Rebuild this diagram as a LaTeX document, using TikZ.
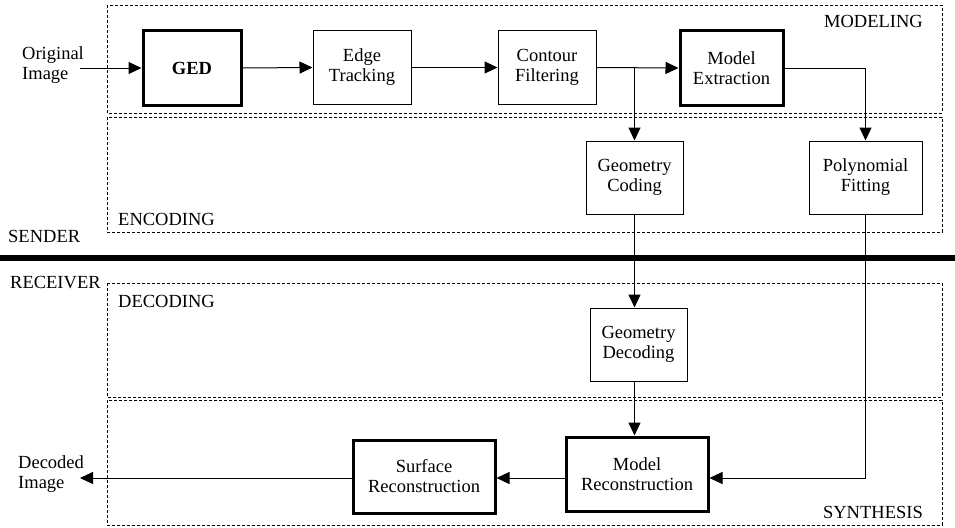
\documentclass[tikz,border=0pt]{standalone}
\usepackage{fontspec}
\setmainfont{Liberation Serif}
\usetikzlibrary{arrows.meta,calc}
\begin{document}
\begin{tikzpicture}[x=1pt,y=-1pt,
  every node/.style={font=\fontsize{18.5}{20}\selectfont},
  blk/.style={draw,line width=1pt,inner sep=0pt,align=center},
  thk/.style={blk,line width=3pt},
  zone/.style={draw,line width=0.9pt,dash pattern=on 3pt off 2pt},
  lab/.style={inner sep=0pt},
  arr/.style={line width=1pt,-{Triangle[length=13pt,width=12pt]}},
  ln/.style={line width=1pt}]
\useasboundingbox (0,0) rectangle (955,527);
% zones
\draw[zone] (107,5) rectangle (942,113);
\draw[zone] (107,117) rectangle (942,232);
\draw[zone] (107,283) rectangle (942,397);
\draw[zone] (107,400) rectangle (942,525);
\draw[line width=6pt] (0,258) -- (955,258);
% zone labels
\node[lab,anchor=base east] (lmod) at (923,28) {MODELING};
\node[lab,anchor=base west] (lenc) at (118,225) {ENCODING};
\node[lab,anchor=base west] (lsnd) at (8,242) {SENDER};
\node[lab,anchor=base west] (lrcv) at (10,288) {RECEIVER};
\node[lab,anchor=base west] (ldec) at (118,307) {DECODING};
\node[lab,anchor=base east] (lsyn) at (923,518) {SYNTHESIS};
% blocks
\node[thk,minimum width=98pt,minimum height=74pt] (GED) at (192,68) {\textbf{GED}};
\node[blk,minimum width=98pt,minimum height=73pt] (ET) at (362,67.5) {Edge\\Tracking};
\node[blk,minimum width=98pt,minimum height=73pt] (CF) at (547,67.5) {Contour\\Filtering};
\node[thk,minimum width=103pt,minimum height=74pt] (ME) at (731.5,68) {Model\\Extraction};
\node[blk,minimum width=97pt,minimum height=73pt] (GC) at (634.5,177.5) {Geometry\\Coding};
\node[blk,minimum width=113pt,minimum height=73pt] (PF) at (865.5,177.5) {Polynomial\\Fitting};
\node[blk,minimum width=97pt,minimum height=73pt] (GD) at (638.5,344.5) {Geometry\\Decoding};
\node[thk,minimum width=142pt,minimum height=74pt] (MR) at (637,474) {Model\\Reconstruction};
\node[thk,minimum width=142pt,minimum height=73pt] (SR) at (424,476.5) {Surface\\Reconstruction};
% io labels
\node[lab,align=left,anchor=north west] (OI) at (22,46) {Original\\Image};
\node[lab,align=left,anchor=north west] (DI) at (18,455) {Decoded\\Image};
% connectors
\coordinate (oistart) at (80,68);
\draw[arr] (oistart) -- (GED.west);
\draw[arr] (GED.east) -- (ET.west);
\draw[arr] (ET.east) -- (CF.west);
\draw[arr] (CF.east) -- (ME.west);
\draw[arr] (GC.north |- CF.east) -- (GC.north);
\draw[arr] (ME.east) -| (PF.north);
\draw[arr] (GC.south) -- (GC.south |- GD.north);
\draw[arr] (GC.south |- GD.south) -- (GC.south |- MR.north);
\draw[arr] (PF.south) |- ([yshift=-4pt]MR.east);
\draw[arr] ([yshift=-4pt]MR.west) -- ([yshift=-4pt]MR.west -| SR.east);
\coordinate (diend) at (80,478);
\draw[arr] (SR.west |- diend) -- (diend);
\end{tikzpicture}
\end{document}
